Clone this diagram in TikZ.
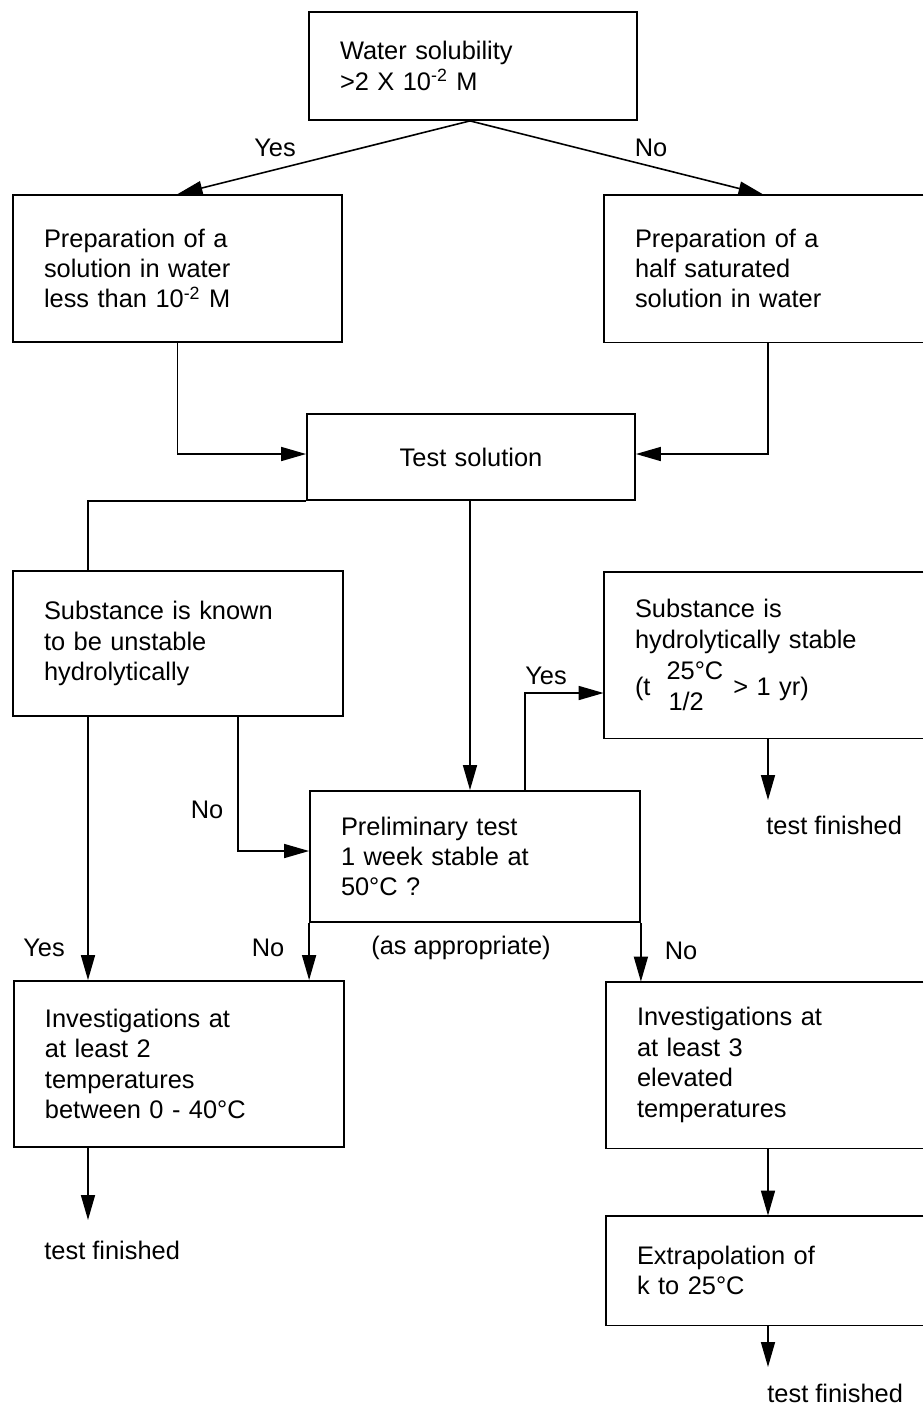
\documentclass[tikz,border=0pt]{standalone}
\usepackage{fontspec}
\setmainfont{Liberation Sans}
\usepackage{calc}
\usetikzlibrary{arrows.meta}
\begin{document}
\begin{tikzpicture}[x=0.5pt,y=-0.5pt,
  font=\fontsize{12.7pt}{15.2pt}\selectfont,
  boxline/.style={line width=0.9pt},
  bx/.style={rectangle, draw, boxline, align=left, inner xsep=15.5pt, inner ysep=0pt},
  obx/.style={rectangle, align=left, inner xsep=15.5pt, inner ysep=0pt},
  conn/.style={line width=0.8pt},
  arr/.style={conn, -{Triangle[length=12.5pt,width=7pt]}},
  lbl/.style={inner sep=0pt}]
\useasboundingbox (0,0) rectangle (923,1405);

% helper coordinates
\coordinate (colL) at (88,0);
\coordinate (colR) at (768,0);
\coordinate (noX) at (238,0);
\coordinate (noY) at (0,851);
\coordinate (yesX) at (525,0);
\coordinate (yesY) at (0,693);
\coordinate (midX) at (470,0);
\coordinate (inY) at (0,454);
\coordinate (e1) at (768,800);
\coordinate (e2) at (88,1220);
\coordinate (e3) at (768,1367);

% boxes
\node[bx, minimum width=164pt, minimum height=54pt, text width=133pt] (top) at (473,66)
  {Water solubility\\>2 X 10\textsuperscript{-2} M};
\node[bx, minimum width=164.5pt, minimum height=73.5pt, text width=133.5pt] (prepL) at (177.5,268.5)
  {Preparation of a\\solution in water\\less than 10\textsuperscript{-2} M};
\node[obx, minimum width=159.5pt, minimum height=73.5pt, text width=128.5pt] (prepR) at (763.5,268.5)
  {Preparation of a\\half saturated\\solution in water};
\node[bx, align=center, minimum width=164pt, minimum height=43pt, text width=133pt] (test) at (471,457)
  {Test solution};
\node[bx, minimum width=165pt, minimum height=72.5pt, text width=134pt] (unst) at (178,643.5)
  {Substance is known\\to be unstable\\hydrolytically};
\node[obx, minimum width=159.5pt, minimum height=83pt, text width=128.5pt] (stab) at (763.5,655)
  {Substance is\\hydrolytically stable\\[3pt](t\hspace{8pt}\rlap{\raisebox{8pt}{25°C}}\raisebox{-7.5pt}{\makebox[\widthof{25°C}][l]{\hspace{1pt}1/2}}\hspace{5pt}> 1 yr)};
\node[bx, minimum width=165pt, minimum height=65.5pt, text width=134pt] (prel) at (475,856.5)
  {Preliminary test\\1 week stable at\\50°C ?};
\node[bx, minimum width=165pt, minimum height=83pt, text width=134pt] (invL) at (179,1064)
  {Investigations at\\at least 2\\temperatures\\between 0 - 40°C};
\node[obx, minimum width=158.5pt, minimum height=83pt, text width=127.5pt] (invR) at (764.5,1065)
  {Investigations at\\at least 3\\elevated\\temperatures};
\node[obx, minimum width=158.5pt, minimum height=54.5pt, text width=127.5pt] (extr) at (764.5,1270.5)
  {Extrapolation of\\k to 25°C};

% open (cut-off) boxes on the right
\draw[boxline] (prepR.north east) -- (prepR.north west) -- (prepR.south west) -- (prepR.south east);
\draw[boxline] (stab.north east) -- (stab.north west) -- (stab.south west) -- (stab.south east);
\draw[boxline] (invR.north east) -- (invR.north west) -- (invR.south west) -- (invR.south east);
\draw[boxline] (extr.north east) -- (extr.north west) -- (extr.south west) -- (extr.south east);

% connectors
\draw[arr] (top.south -| midX) -- (prepL.north);
\draw[arr] (top.south -| midX) -- (prepR.north);
\draw[arr] (prepL.south) |- (test.west |- inY);
\draw[arr] (prepR.south -| colR) |- (test.east |- inY);
\draw[conn] (test.south west) -| (unst.north -| colL);
\draw[arr] (test.south -| midX) -- (prel.north -| midX);
\draw[arr] (unst.south -| colL) -- (invL.north -| colL);
\draw[arr] (unst.south -| noX) |- (prel.west |- noY);
\draw[arr] (prel.north -| yesX) |- (stab.west |- yesY);
\draw[arr] (stab.south -| colR) -- (e1);
\draw[arr] (prel.south west) -- (prel.south west |- invL.north);
\draw[arr] (prel.south east) -- (prel.south east |- invR.north);
\draw[arr] (invL.south -| colL) -- (e2);
\draw[arr] (invR.south -| colR) -- (extr.north -| colR);
\draw[arr] (extr.south -| colR) -- (e3);

% labels
\node[lbl] (lyes1) at (275,148) {Yes};
\node[lbl] (lno1) at (651,148) {No};
\node[lbl] (lyes2) at (546,676) {Yes};
\node[lbl] (lno2) at (207,810) {No};
\node[lbl] (lyes3) at (44,948) {Yes};
\node[lbl] (lno3) at (268,948) {No};
\node[lbl] (lapp) at (461,948) {(as appropriate)};
\node[lbl] (lno4) at (681,951) {No};
\node[lbl, anchor=west] (tf1) at (766,825) {test finished};
\node[lbl, anchor=west] (tf2) at (44,1250) {test finished};
\node[lbl, anchor=west] (tf3) at (767,1393) {test finished};
\end{tikzpicture}
\end{document}
